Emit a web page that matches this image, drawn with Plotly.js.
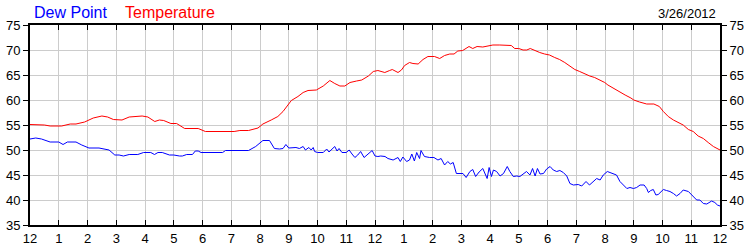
<!DOCTYPE html>
<html>
<head>
<meta charset="utf-8">
<script src="https://cdn.plot.ly/plotly-3.0.1.min.js"></script>
<style>html,body{margin:0;padding:0;background:#fff;}#chart{width:750px;height:250px;}</style>
</head>
<body>
<div id="chart"></div>
<script>
// Hour-of-day positions (0 = midnight) and readings
const tempHours = [0,0.3,0.5,0.7,1.1,1.4,1.6,1.9,2.2,2.5,2.7,2.9,3.2,3.45,3.9,4.1,4.34,4.5,4.65,4.9,5.1,5.38,5.85,6.1,7.1,7.3,7.6,7.93,8.1,8.39,8.62,8.8,8.97,9.09,9.32,9.5,9.67,9.96,10.2,10.43,10.6,10.78,10.95,11.13,11.36,11.54,11.77,11.94,12.1,12.34,12.51,12.6,12.8,12.92,13.03,13.2,13.32,13.5,13.67,13.84,14.07,14.25,14.42,14.6,14.75,14.88,15.05,15.27,15.4,15.55,15.75,15.93,16.1,16.34,16.74,16.86,17.0,17.15,17.28,17.4,17.55,17.73,17.9,18.07,18.25,18.42,18.6,18.77,18.95,19.12,19.29,19.47,19.64,19.81,19.99,20.1,20.3,20.5,20.7,20.9,21.0,21.2,21.45,21.7,21.89,22.03,22.2,22.38,22.55,22.72,22.9,23.07,23.24,23.42,23.59,23.77,24];
const temperature = [55.1,55.1,55.0,54.8,54.8,55.2,55.2,55.6,56.4,56.8,56.6,56.1,56.0,56.6,56.8,56.6,55.7,56.0,55.9,55.3,55.3,54.3,54.3,53.7,53.7,53.9,53.9,54.4,55.2,56.0,56.7,57.7,59.0,59.9,60.7,61.5,61.9,62.0,62.8,63.9,63.3,62.8,62.8,63.5,63.8,64.0,64.8,65.7,65.9,65.5,65.9,66.1,65.5,66.0,66.9,67.5,67.3,67.2,68.1,68.7,68.7,68.3,68.9,69.2,69.2,69.8,69.9,70.7,70.3,70.7,70.6,70.8,71.0,71.0,70.9,70.3,70.3,70.0,70.0,70.3,69.9,69.5,69.2,69.0,68.5,68.1,67.5,66.8,66.1,65.7,65.2,64.8,64.5,64.0,63.5,63.0,62.3,61.6,61.0,60.4,60.0,59.6,59.2,59.2,58.7,57.7,56.7,56.0,55.5,55.0,54.1,53.7,52.8,52.3,51.5,50.7,50.0];

const dewHours = [0,0.2,0.4,0.7,1.0,1.15,1.3,1.6,1.8,2.05,2.4,2.65,2.75,2.95,3.1,3.25,3.45,3.75,3.95,4.2,4.33,4.45,4.6,4.85,5.0,5.2,5.3,5.45,5.65,5.75,5.85,5.95,6.7,6.8,7.6,7.85,8.0,8.1,8.33,8.5,8.68,8.8,8.9,9.0,9.25,9.37,9.5,9.58,9.7,9.78,9.85,9.9,10.0,10.2,10.32,10.4,10.6,10.68,10.75,10.85,11.0,11.1,11.2,11.3,11.4,11.5,11.62,11.75,11.9,12.0,12.1,12.2,12.35,12.45,12.63,12.8,12.88,12.97,13.1,13.2,13.28,13.37,13.45,13.55,13.6,13.72,13.9,14.05,14.19,14.3,14.42,14.53,14.62,14.72,14.83,15.06,15.17,15.3,15.4,15.5,15.62,15.75,15.9,15.97,16.05,16.12,16.23,16.35,16.47,16.6,16.69,16.81,16.93,17.04,17.16,17.27,17.39,17.48,17.57,17.65,17.74,17.86,17.97,18.09,18.2,18.32,18.43,18.55,18.67,18.78,18.9,19.07,19.19,19.34,19.46,19.6,19.71,19.83,19.94,20.08,20.23,20.4,20.52,20.64,20.76,20.87,20.99,21.1,21.22,21.36,21.45,21.51,21.59,21.68,21.77,21.85,22.03,22.14,22.26,22.38,22.49,22.61,22.72,22.9,23.07,23.19,23.3,23.42,23.54,23.65,23.71,23.82,23.91,24];
const dewPoint = [52.2,52.4,52.2,51.6,51.6,51.1,51.6,51.6,51.0,50.4,50.4,50.2,50.0,49.0,49.0,48.8,49.1,49.1,49.5,49.5,49.1,49.5,49.5,49.0,49.0,48.8,48.8,49.1,49.1,49.8,49.8,49.5,49.5,49.9,49.9,50.7,51.5,51.9,51.9,50.3,50.2,50.3,51.1,50.4,50.5,50.3,50.7,50.0,50.5,50.0,50.5,49.7,49.5,49.5,50.2,49.6,50.7,49.8,50.3,49.5,49.5,50.0,49.2,48.5,49.0,49.7,48.5,49.2,49.9,48.8,48.7,48.8,48.7,48.3,48.0,48.5,47.7,48.6,47.7,48.0,49.2,47.8,49.5,48.3,49.9,48.7,48.5,48.5,48.0,48.3,47.0,47.7,47.2,47.5,45.3,45.3,44.5,45.7,46.1,44.7,45.6,46.3,44.3,46.5,44.7,46.0,45.7,44.8,45.3,46.7,45.7,44.7,44.8,44.7,45.2,45.7,45.0,46.3,44.8,46.3,45.2,45.3,46.2,46.7,46.0,45.7,45.9,45.5,44.8,43.3,43.0,43.1,42.8,43.7,43.0,43.7,44.3,44.0,45.0,45.7,45.3,45.0,43.7,43.0,42.3,42.5,42.3,42.5,43.0,43.0,42.3,41.5,41.9,42.1,41.0,41.1,42.1,41.9,41.7,41.3,40.8,41.3,42.0,41.7,40.7,40.0,40.0,39.3,39.2,39.6,39.8,39.5,39.0,38.8];

const hourTicks = [0,1,2,3,4,5,6,7,8,9,10,11,12,13,14,15,16,17,18,19,20,21,22,23,24];
const hourLabels = ['12','1','2','3','4','5','6','7','8','9','10','11','12','1','2','3','4','5','6','7','8','9','10','11','12'];
const valueTicks = [35,40,45,50,55,60,65,70,75];
const seriesNames = ['Dew Point','Temperature'];
const dateLabel = '3/26/2012';

const font = 'Arial, "Liberation Sans", sans-serif';

const traces = [
  {x: dewHours, y: dewPoint, type: 'scatter', mode: 'lines', name: seriesNames[0],
   line: {color: '#0000ff', width: 1}, hoverinfo: 'skip'},
  {x: tempHours, y: temperature, type: 'scatter', mode: 'lines', name: seriesNames[1],
   line: {color: '#ff0000', width: 1}, hoverinfo: 'skip'}
];

const layout = {
  width: 750, height: 250,
  margin: {l: 30, r: 30, t: 25, b: 25, pad: 0},
  paper_bgcolor: '#fff', plot_bgcolor: '#fff',
  showlegend: false,
  font: {family: font, size: 13, color: '#000'},
  xaxis: {
    range: [0, 24], tickmode: 'array', tickvals: hourTicks, ticktext: hourLabels,
    showgrid: true, gridcolor: '#cccccc', gridwidth: 1,
    ticks: 'inside', ticklen: 5, tickcolor: '#000', tickwidth: 1,
    showline: true, linecolor: '#000', linewidth: 2, mirror: 'ticks',
    zeroline: false, tickfont: {family: font, size: 13, color: '#000'},
    fixedrange: true
  },
  yaxis: {
    range: [35, 75], tickmode: 'array', tickvals: valueTicks,
    showgrid: true, gridcolor: '#cccccc', gridwidth: 1,
    ticks: 'outside', ticklen: 5, tickcolor: '#000', tickwidth: 1,
    showline: true, linecolor: '#000', linewidth: 2, mirror: true,
    zeroline: false, tickfont: {family: font, size: 13, color: '#000'},
    fixedrange: true
  },
  yaxis2: {
    range: [35, 75], tickmode: 'array', tickvals: valueTicks,
    overlaying: 'y', side: 'right', showgrid: false,
    ticks: 'outside', ticklen: 5, tickcolor: '#000', tickwidth: 1,
    showline: true, linecolor: '#000', linewidth: 2,
    zeroline: false, tickfont: {family: font, size: 13, color: '#000'},
    fixedrange: true
  },
  annotations: [
    {text: seriesNames[0], xref: 'paper', yref: 'paper', x: 0, y: 1, xshift: 2, yshift: 13,
     xanchor: 'left', yanchor: 'middle', showarrow: false,
     font: {family: font, size: 16, color: '#0000ff'}},
    {text: seriesNames[1], xref: 'paper', yref: 'paper', x: 0, y: 1, xshift: 93, yshift: 13,
     xanchor: 'left', yanchor: 'middle', showarrow: false,
     font: {family: font, size: 16, color: '#ff0000'}},
    {text: dateLabel, xref: 'paper', yref: 'paper', x: 1, y: 1, xshift: -2, yshift: 12,
     xanchor: 'right', yanchor: 'middle', showarrow: false,
     font: {family: font, size: 13, color: '#000'}}
  ]
};

// invisible trace to anchor the right axis
traces.push({x: [0], y: [35], yaxis: 'y2', type: 'scatter', mode: 'markers',
  marker: {opacity: 0}, hoverinfo: 'skip', showlegend: false});

Plotly.newPlot('chart', traces, layout, {displayModeBar: false, staticPlot: true});
</script>
</body>
</html>
